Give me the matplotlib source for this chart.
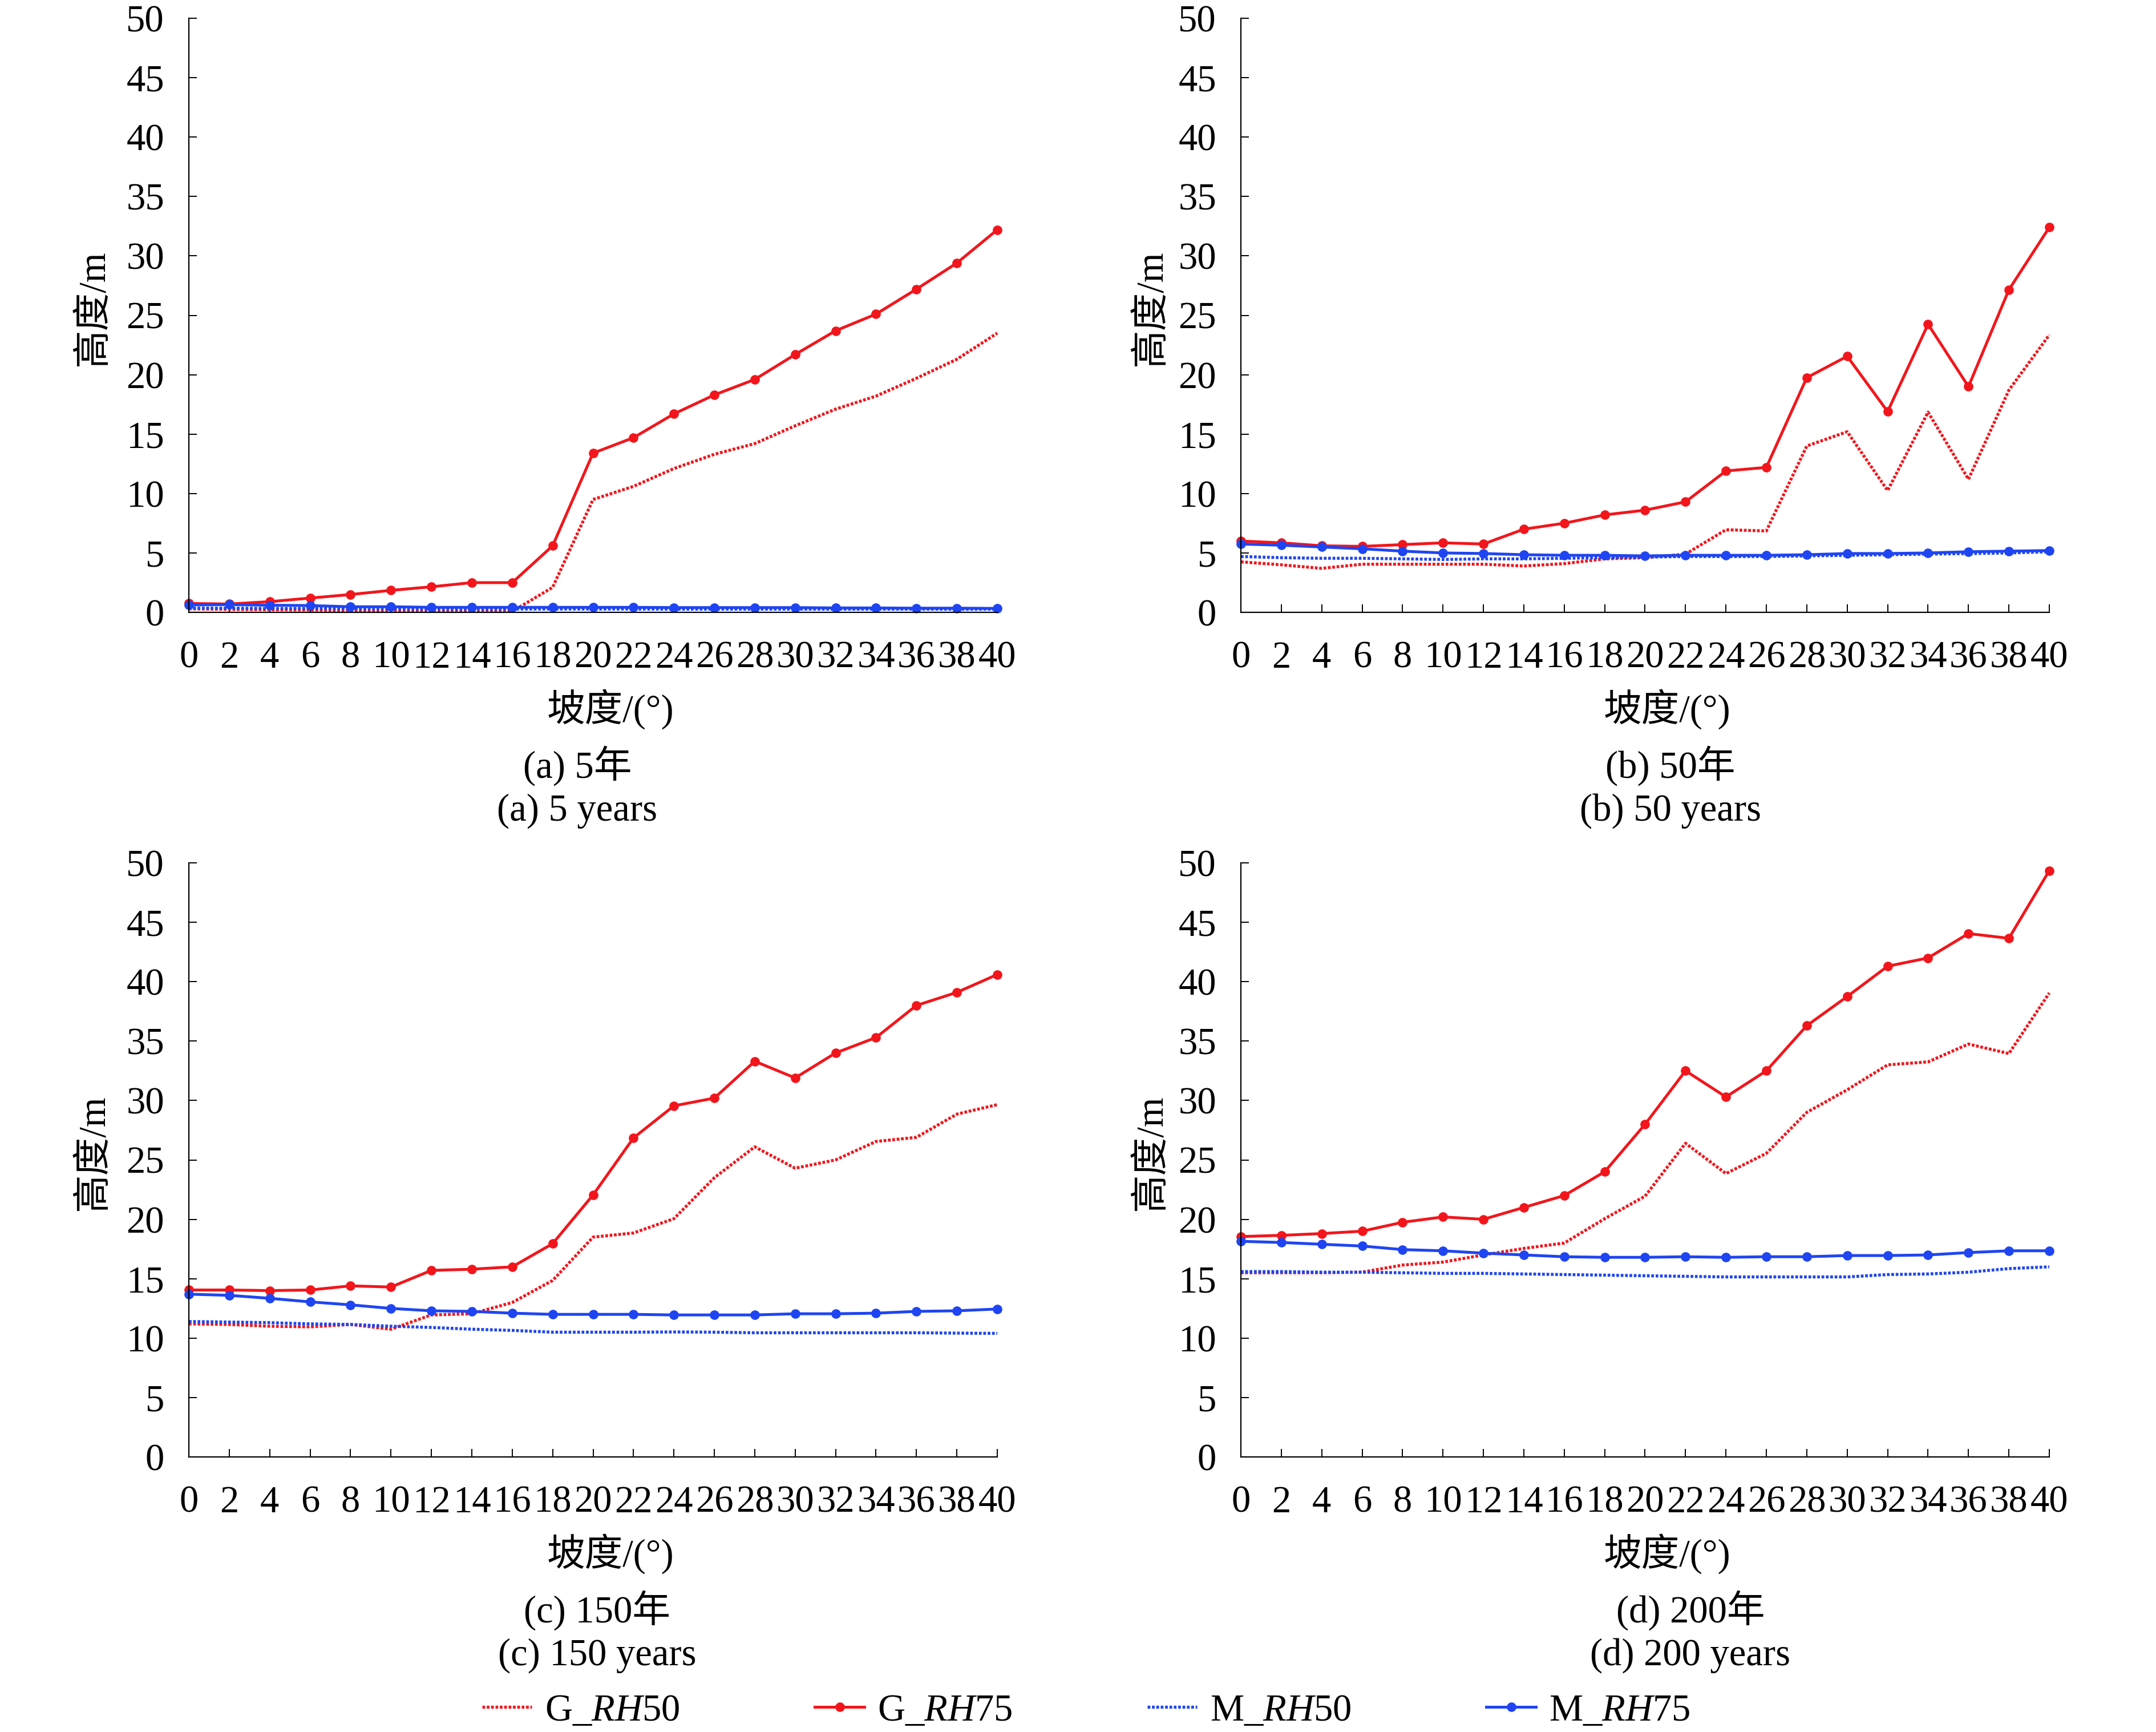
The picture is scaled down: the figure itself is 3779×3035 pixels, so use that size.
import numpy as np
import matplotlib
matplotlib.use("Agg")
import matplotlib.pyplot as plt

plt.rcParams['font.family'] = ['Liberation Serif', 'Noto Sans CJK SC', 'DejaVu Sans']
plt.rcParams['mathtext.fontset'] = 'custom'
plt.rcParams['mathtext.rm'] = 'Liberation Serif'
plt.rcParams['mathtext.it'] = 'Liberation Serif:italic'
plt.rcParams['axes.unicode_minus'] = False

# 坡度 (°)
slope = list(range(0, 42, 2))

# (a) 5 年
a_g50 = [0.3, 0.25, 0.22, 0.2, 0.16, 0.1, 0.08, 0.08, 0.08, 2.1, 9.5, 10.6, 12.1, 13.3, 14.2, 15.7, 17.1, 18.2, 19.7, 21.3, 23.5]
a_g75 = [0.75, 0.7, 0.9, 1.2, 1.5, 1.85, 2.15, 2.5, 2.5, 5.6, 13.4, 14.7, 16.7, 18.3, 19.6, 21.7, 23.7, 25.1, 27.2, 29.4, 32.2]
a_m50 = [0.35, 0.35, 0.33, 0.32, 0.3, 0.3, 0.28, 0.28, 0.28, 0.28, 0.28, 0.28, 0.27, 0.27, 0.27, 0.27, 0.27, 0.27, 0.27, 0.26, 0.26]
a_m75 = [0.62, 0.65, 0.6, 0.57, 0.47, 0.47, 0.42, 0.42, 0.42, 0.42, 0.42, 0.42, 0.4, 0.4, 0.4, 0.4, 0.37, 0.37, 0.35, 0.35, 0.33]

# (b) 50 年
b_g50 = [4.25, 4.0, 3.7, 4.05, 4.05, 4.05, 4.05, 3.9, 4.1, 4.5, 4.6, 4.9, 6.95, 6.85, 14.0, 15.2, 10.25, 16.85, 11.2, 18.7, 23.35]
b_g75 = [6.0, 5.85, 5.6, 5.55, 5.7, 5.85, 5.75, 7.0, 7.5, 8.2, 8.6, 9.3, 11.9, 12.2, 19.75, 21.55, 16.9, 24.25, 19.0, 27.15, 32.4]
b_m50 = [4.7, 4.6, 4.55, 4.55, 4.5, 4.45, 4.5, 4.5, 4.55, 4.6, 4.65, 4.7, 4.7, 4.7, 4.75, 4.8, 4.85, 4.9, 4.95, 5.0, 5.1]
b_m75 = [5.75, 5.65, 5.5, 5.35, 5.15, 5.0, 4.95, 4.85, 4.8, 4.8, 4.75, 4.8, 4.8, 4.8, 4.85, 4.95, 4.95, 5.0, 5.1, 5.15, 5.2]

# (c) 150 年
c_g50 = [11.2, 11.15, 11.0, 10.95, 11.15, 10.75, 11.95, 12.05, 13.0, 14.85, 18.5, 18.85, 20.05, 23.5, 26.1, 24.3, 25.0, 26.55, 26.9, 28.85, 29.65]
c_g75 = [14.05, 14.05, 14.0, 14.05, 14.4, 14.3, 15.7, 15.8, 16.0, 17.95, 22.05, 26.85, 29.55, 30.2, 33.3, 31.9, 34.0, 35.3, 38.0, 39.1, 40.6]
c_m50 = [11.4, 11.35, 11.3, 11.2, 11.15, 11.0, 10.9, 10.75, 10.65, 10.5, 10.5, 10.5, 10.52, 10.5, 10.45, 10.45, 10.45, 10.45, 10.45, 10.42, 10.4]
c_m75 = [13.7, 13.6, 13.35, 13.05, 12.8, 12.5, 12.3, 12.25, 12.1, 12.0, 12.0, 12.0, 11.95, 11.95, 11.95, 12.05, 12.05, 12.1, 12.25, 12.3, 12.45]

# (d) 200 年
d_g50 = [15.5, 15.5, 15.5, 15.55, 16.15, 16.4, 17.0, 17.55, 18.0, 20.05, 21.95, 26.4, 23.85, 25.55, 29.0, 30.9, 33.0, 33.25, 34.75, 33.95, 39.05]
d_g75 = [18.55, 18.65, 18.8, 19.0, 19.75, 20.2, 20.0, 21.0, 22.0, 24.0, 28.0, 32.5, 30.3, 32.5, 36.3, 38.75, 41.3, 42.0, 44.05, 43.65, 49.35]
d_m50 = [15.6, 15.6, 15.55, 15.55, 15.5, 15.45, 15.45, 15.4, 15.35, 15.3, 15.25, 15.2, 15.15, 15.15, 15.15, 15.15, 15.35, 15.4, 15.55, 15.85, 16.0]
d_m75 = [18.15, 18.05, 17.9, 17.75, 17.45, 17.35, 17.15, 17.0, 16.85, 16.8, 16.8, 16.85, 16.8, 16.85, 16.85, 16.95, 16.95, 17.0, 17.2, 17.35, 17.35]

panels = [
    (a_g50, a_g75, a_m50, a_m75),
    (b_g50, b_g75, b_m50, b_m75),
    (c_g50, c_g75, c_m50, c_m75),
    (d_g50, d_g75, d_m50, d_m75),
]
captions_cn = ['(a) 5年', '(b) 50年', '(c) 150年', '(d) 200年']
captions_en = ['(a) 5 years', '(b) 50 years', '(c) 150 years', '(d) 200 years']
series_labels = ['G_$\\mathit{RH}$50', 'G_$\\mathit{RH}$75', 'M_$\\mathit{RH}$50', 'M_$\\mathit{RH}$75']

RED = '#f2161c'
BLUE = '#1f45f2'
W, H = 3780, 3035
FS = 48

fig = plt.figure(figsize=(W / 100, H / 100), dpi=100)

# 像素位置 -> figure 坐标
def fx(px):
    return px / W

def fy(py):
    return 1 - py / H

boxes = [(331, 32), (2175, 32), (331, 1512), (2175, 1512)]
ax_w, ax_h = 1417, 1041
xlabel_x = [1070, 2922, 1070, 2922]
cap_x = [1012, 2928, 1047, 2963]
ylabel_x = [164, 2018, 164, 2018]

handles = []
for i, (g50, g75, m50, m75) in enumerate(panels):
    x0, y0 = boxes[i]
    ax = fig.add_axes([fx(x0), fy(y0 + ax_h), fx(ax_w), ax_h / H])
    l1, = ax.plot(slope, g50, color=RED, lw=3.8, ls=(0, (0.9, 0.55)))
    l2, = ax.plot(slope, g75, color=RED, lw=3.6, marker='o', ms=11)
    l3, = ax.plot(slope, m50, color=BLUE, lw=3.8, ls=(0, (0.9, 0.55)))
    l4, = ax.plot(slope, m75, color=BLUE, lw=3.6, marker='o', ms=11)
    if i == 0:
        handles = [l1, l2, l3, l4]
    ax.set_xlim(0, 40)
    ax.set_ylim(0, 50)
    ax.set_xticks(slope)
    ax.set_yticks(range(0, 55, 5))
    ax.spines['top'].set_visible(False)
    ax.spines['right'].set_visible(False)
    ax.spines['left'].set_linewidth(1.6)
    ax.spines['bottom'].set_linewidth(1.6)
    ax.tick_params(direction='in', length=10, width=1.4, labelsize=FS)
    ax.tick_params(axis='x', pad=36)
    ax.tick_params(axis='y', pad=31)
    for ln in ax.lines:
        ln.set_clip_on(False)

    bottom = y0 + ax_h
    fig.text(fx(ylabel_x[i]), fy(y0 + ax_h / 2 - 12), '高度/m', rotation=90,
             ha='center', va='center', fontsize=FS)
    fig.text(fx(xlabel_x[i]), fy(bottom + 170), '坡度/(°)', ha='center', va='center', fontsize=FS)
    fig.text(fx(cap_x[i]), fy(bottom + 269), captions_cn[i], ha='center', va='center', fontsize=FS)
    fig.text(fx(cap_x[i]), fy(bottom + 348), captions_en[i], ha='center', va='center', fontsize=FS)

fig.legend(handles, series_labels, loc='center', bbox_to_anchor=(fx(1904), fy(2998)),
           ncol=4, frameon=False, fontsize=FS, handlelength=1.3, handletextpad=0.35,
           columnspacing=3.55, borderpad=0, borderaxespad=0)

fig.savefig('out.png', dpi=100, facecolor='white')
